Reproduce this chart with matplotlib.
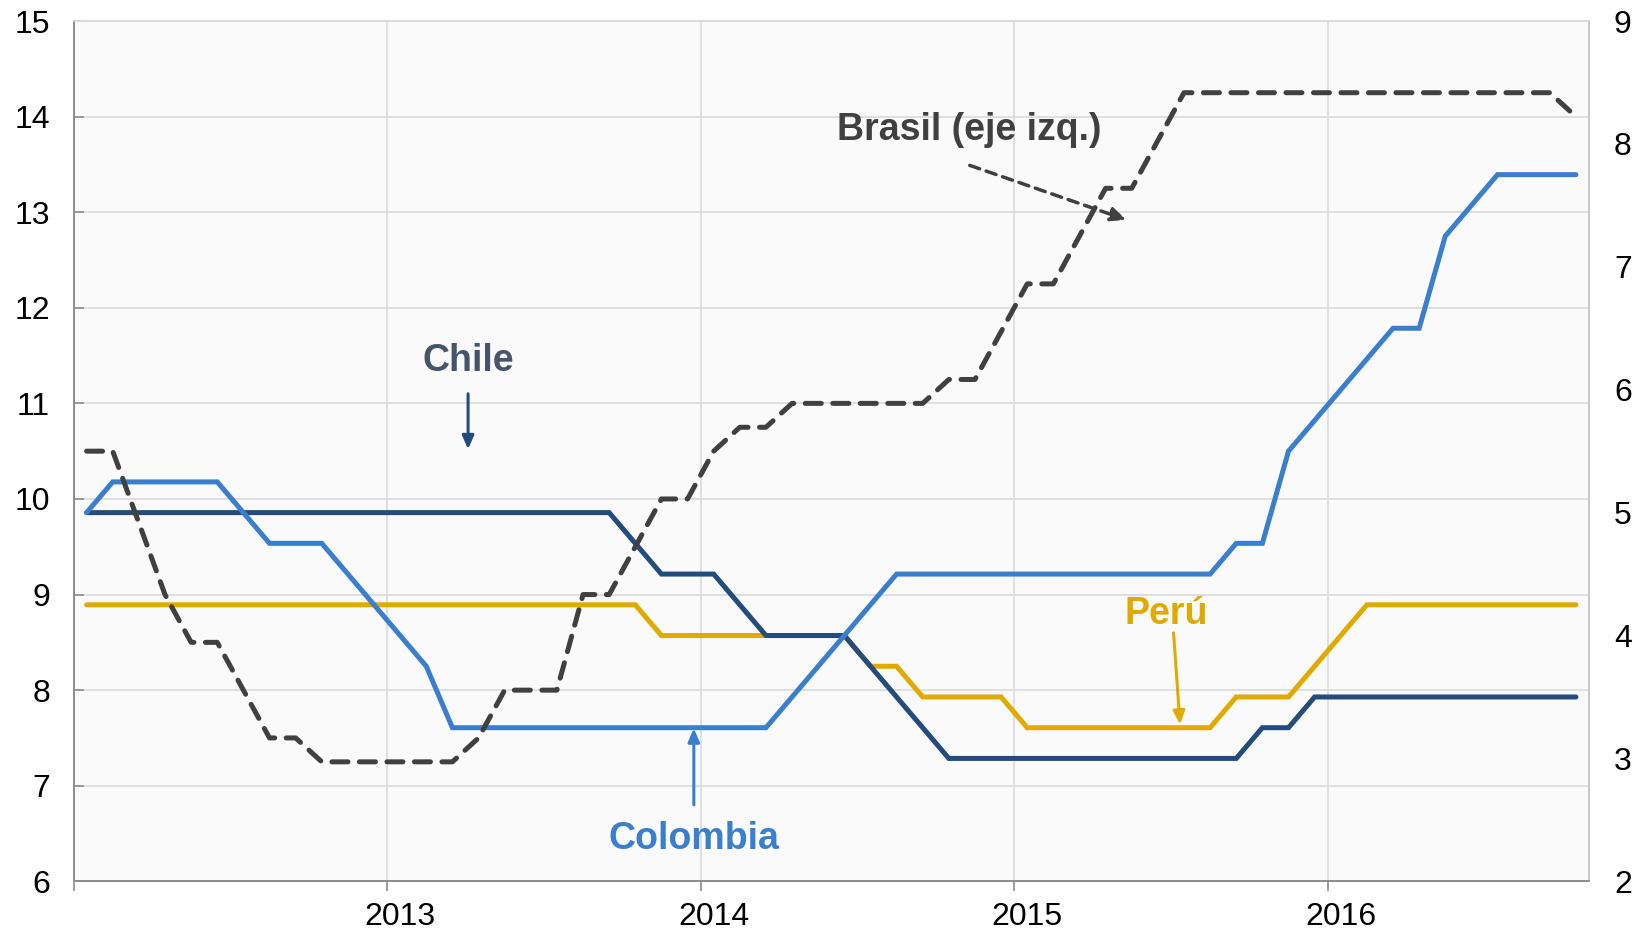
import numpy as np
import matplotlib
matplotlib.use('Agg')
import matplotlib.pyplot as plt

plt.rcParams['font.family'] = ['Liberation Sans', 'DejaVu Sans']

# meses desde ene-2012 (58 meses, hasta oct-2016)
meses = np.arange(58) + 0.5
years = ['2013', '2014', '2015', '2016']
year_pos = [12.5, 24.5, 36.5, 48.5]

# Brasil (eje izq.)
brasil = ([10.5, 10.5, 9.75, 9.0, 8.5, 8.5, 8.0, 7.5, 7.5] + [7.25] * 6 + [7.5] + [8.0] * 3
          + [9.0] * 2 + [9.5] + [10.0] * 2 + [10.5] + [10.75] * 2 + [11.0] * 6 + [11.25] * 2
          + [11.75] + [12.25] * 2 + [12.75] + [13.25] * 2 + [13.75] + [14.25] * 15 + [14.0])
# eje der.
chile = ([5.0] * 21 + [4.75] + [4.5] * 3 + [4.25] + [4.0] * 4 + [3.75, 3.5, 3.25]
         + [3.0] * 12 + [3.25] * 2 + [3.5] * 11)
colombia = ([5.0] + [5.25] * 5 + [5.0] + [4.75] * 3 + [4.5, 4.25, 4.0, 3.75] + [3.25] * 13
            + [3.5, 3.75, 4.0, 4.25] + [4.5] * 13 + [4.75] * 2 + [5.5, 5.75, 6.0, 6.25]
            + [6.5] * 2 + [7.25, 7.5] + [7.75] * 4)
peru = ([4.25] * 22 + [4.0] * 8 + [3.75] * 2 + [3.5] * 4 + [3.25] * 8 + [3.5] * 3
        + [3.75, 4.0] + [4.25] * 9)

c_brasil = '#404040'
c_chile = '#234B7D'
c_col = '#3A7FCE'
c_peru = '#E0AA00'

fig = plt.figure(figsize=(16.49, 9.34), dpi=100)
ax = fig.add_axes([0.0446, 0.0564, 0.9190, 0.9211])
ax.set_facecolor('#FAFAFA')
ax.set_xlim(0, 58)
ax.set_ylim(6, 15)
ax.set_yticks(range(6, 16))
ax.set_xticks([0, 12, 24, 36, 48])
ax.set_xticklabels([])
ax.set_xticks(year_pos, minor=True)
ax.set_xticklabels(years, minor=True)
ax.tick_params(axis='x', which='major', direction='out', length=7, width=1.2, color='#8C8C8C')
ax.tick_params(axis='x', which='minor', length=0, pad=15, labelsize=23)
ax.tick_params(axis='y', direction='in', length=7, width=1.2, color='#8C8C8C', pad=17, labelsize=23)
ax.grid(True, which='major', color='#DADADA', lw=1.2)
ax.set_axisbelow(True)

ax2 = ax.twinx()
ax2.set_ylim(2, 9)
ax2.set_yticks(range(2, 10))
ax2.tick_params(axis='y', length=0, pad=18, labelsize=23)

for a in (ax, ax2):
    a.spines['left'].set_color('#8C8C8C')
    a.spines['bottom'].set_color('#8C8C8C')
    a.spines['top'].set_color('#DADADA')
    a.spines['right'].set_color('#C8C8C8')
    for s in a.spines.values():
        s.set_linewidth(1.2)

lw = 3.6
ax2.plot(meses, peru, color=c_peru, lw=lw, solid_capstyle='round', solid_joinstyle='miter')
ax2.plot(meses, chile, color=c_chile, lw=lw, solid_capstyle='round', solid_joinstyle='miter')
ax2.plot(meses, colombia, color=c_col, lw=lw, solid_capstyle='round', solid_joinstyle='miter')
ax2.plot(meses, brasil, color=c_brasil, lw=lw, ls=(0, (3.2, 2.3)), dash_capstyle='round',
         transform=ax.transData)

fs = 27
ax2.annotate('Brasil (eje izq.)', xy=(40.2, 12.94), xytext=(34.3, 13.86), xycoords=ax.transData,
             textcoords=ax.transData, ha='center', va='center', fontsize=fs, fontweight='bold',
             color=c_brasil)
ax2.annotate('', xy=(40.3, 12.92), xytext=(34.3, 13.49), xycoords=ax.transData,
             textcoords=ax.transData,
             arrowprops=dict(arrowstyle='-|>,head_length=0.9,head_width=0.4', color=c_brasil,
                             lw=2.5, ls=(0, (3, 2)), shrinkA=0, shrinkB=0))
ax2.annotate('Chile', xy=(15.1, 10.52), xytext=(15.1, 11.44), xycoords=ax.transData,
             textcoords=ax.transData, ha='center', va='center', fontsize=fs, fontweight='bold',
             color='#44546A')
ax2.annotate('', xy=(15.1, 10.52), xytext=(15.1, 11.1), xycoords=ax.transData,
             textcoords=ax.transData,
             arrowprops=dict(arrowstyle='-|>,head_length=0.8,head_width=0.35', color=c_chile,
                             lw=2.2, shrinkA=0, shrinkB=0))
ax2.annotate('Colombia', xy=(23.74, 7.6), xytext=(23.74, 6.44), xycoords=ax.transData,
             textcoords=ax.transData, ha='center', va='center', fontsize=fs, fontweight='bold',
             color=c_col)
ax2.annotate('', xy=(23.74, 7.6), xytext=(23.74, 6.8), xycoords=ax.transData,
             textcoords=ax.transData,
             arrowprops=dict(arrowstyle='-|>,head_length=0.8,head_width=0.35', color=c_col,
                             lw=2.2, shrinkA=0, shrinkB=0))
ax2.annotate('Perú', xy=(42.35, 7.64), xytext=(41.84, 8.8), xycoords=ax.transData,
             textcoords=ax.transData, ha='center', va='center', fontsize=fs, fontweight='bold',
             color=c_peru)
ax2.annotate('', xy=(42.35, 7.64), xytext=(42.1, 8.6), xycoords=ax.transData,
             textcoords=ax.transData,
             arrowprops=dict(arrowstyle='-|>,head_length=0.8,head_width=0.35', color=c_peru,
                             lw=2.2, shrinkA=0, shrinkB=0))

fig.savefig('out.png', dpi=100)
